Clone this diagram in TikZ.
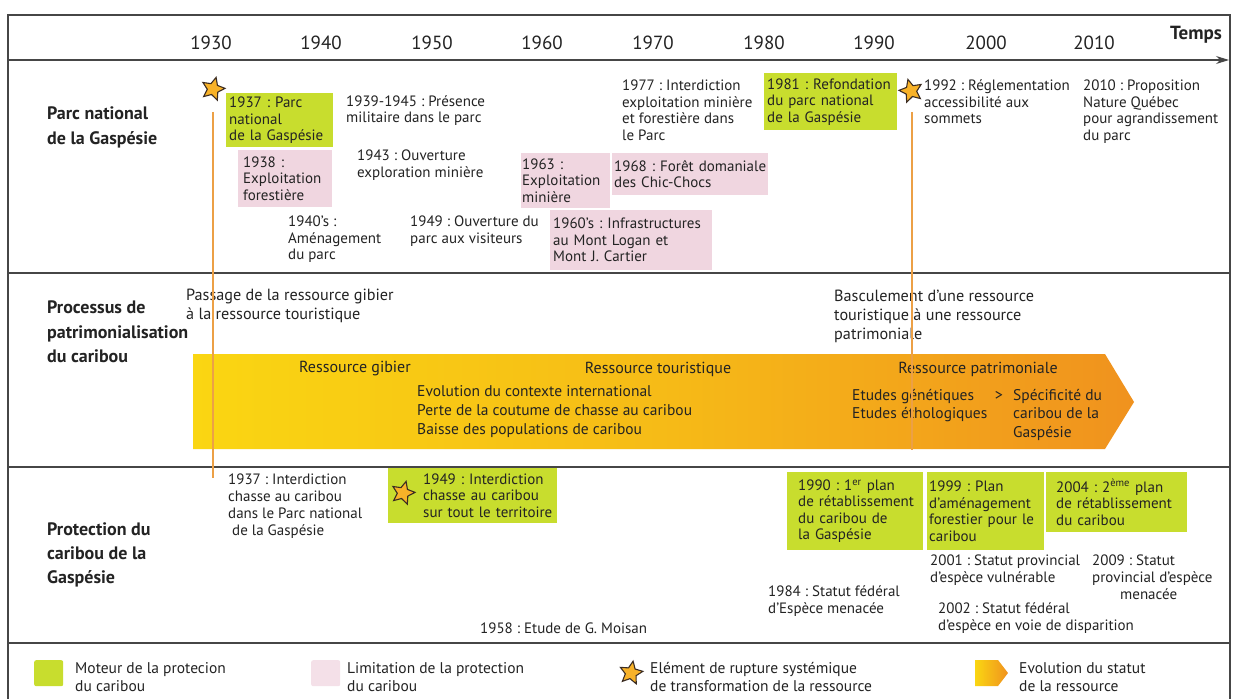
\documentclass[tikz,border=0pt]{standalone}
\usepackage{fontspec}
\setmainfont{PT Sans}
\frenchspacing
\usetikzlibrary{shapes.geometric,arrows.meta}
\definecolor{frame}{RGB}{70,70,70}
\definecolor{txt}{RGB}{35,35,35}
\definecolor{gbox}{RGB}{200,221,46}
\definecolor{pbox}{RGB}{240,214,224}
\definecolor{starfill}{RGB}{248,178,40}
\definecolor{stardraw}{RGB}{60,45,35}
\definecolor{oline}{RGB}{236,160,70}
\definecolor{ayellow}{RGB}{250,214,18}
\definecolor{aorange}{RGB}{240,146,30}
\begin{document}
\begin{tikzpicture}[x=1pt,y=-1pt,
  every node/.style={text=txt},
  body/.style={font=\fontsize{15}{16.5}\selectfont, align=left, anchor=north west, inner sep=0pt},
  prot/.style={font=\fontsize{15}{17}\selectfont, align=left, anchor=north west, inner sep=0pt},
  proc/.style={font=\fontsize{16.2}{19}\selectfont, align=left, anchor=north west, inner sep=0pt},
  leg/.style={font=\fontsize{15.5}{18}\selectfont, align=left, anchor=north west, inner sep=0pt},
  year/.style={font=\fontsize{19}{21}\selectfont, anchor=center, inner sep=0pt},
  section/.style={font=\bfseries\fontsize{18}{24.3}\selectfont, align=left, anchor=north west, inner sep=0pt},
  greenbox/.style={body, fill=gbox, inner xsep=0pt, inner ysep=1pt},
  pinkbox/.style={body, fill=pbox, inner xsep=0pt, inner ysep=1pt},
  rupture/.style={star, star points=5, star point ratio=2.1, minimum size=24pt, inner sep=0pt, fill=starfill, draw=stardraw, line width=1.1pt},
  sep/.style={draw=frame, line width=1.1pt},
  vline/.style={draw=oline, line width=1.4pt},
  resource/.style={font=\fontsize{16}{18}\selectfont, anchor=center, inner sep=0pt}
]
\useasboundingbox (0,0) rectangle (1238,698);
\fill[white] (0,0) rectangle (1238,698);

% frame and separators
\draw[sep] (8,705) -- (8,15) -- (1230,15) -- (1230,705);
\coordinate (axisL) at (8,60);
\coordinate (axisR) at (1229,60);
\draw[sep, -{Stealth[length=13pt,width=8pt]}] (axisL) -- (axisR);
\draw[sep] (8,273) -- (1230,273);
\draw[sep] (8,467) -- (1230,467);
\draw[sep] (8,643) -- (1230,643);

% years
\node[year] (y1930) at (211,43) {1930};
\node[year] (y1940) at (321,43) {1940};
\node[year] (y1950) at (432,43) {1950};
\node[year] (y1960) at (542,43) {1960};
\node[year] (y1970) at (653,43) {1970};
\node[year] (y1980) at (764,43) {1980};
\node[year] (y1990) at (874,43) {1990};
\node[year] (y2000) at (986,43) {2000};
\node[year] (y2010) at (1094,43) {2010};
\node[font=\bfseries\fontsize{19}{21}\selectfont, anchor=center, inner sep=0pt] (temps) at (1196,35) {Temps};

% section titles
\node[section] (s1) at (47,107) {Parc national\\de la Gaspésie};
\node[section] (s2) at (47,301) {Processus de\\patrimonialisation\\du caribou};
\node[section] (s3) at (47,522) {Protection du\\caribou de la\\Gaspésie};

% big resource arrow
\shade[left color=ayellow, right color=aorange, middle color=ayellow!60!aorange]
  (193,354) -- (1105,354) -- (1134,402) -- (1105,449) -- (193,449) -- cycle;

% Parc national
\node[greenbox, text width=107pt, minimum height=54pt] (p1937) at (226,93) {\hspace*{3pt}1937 : Parc\\\hspace*{3pt}national\\\hspace*{3pt}de la Gaspésie};
\node[pinkbox, text width=94pt, minimum height=57pt] (p1938) at (238,150) {\hspace*{5pt}1938 :\\\hspace*{5pt}Exploitation\\\hspace*{5pt}forestière};
\node[body] (p3945) at (346,95) {1939-1945 : Présence\\militaire dans le parc};
\node[body] (p1943) at (357,150) {1943 : Ouverture\\exploration minière};
\node[body] (p1940s) at (288,216) {1940’s :\\Aménagement\\du parc};
\node[body] (p1949) at (410,216) {1949 : Ouverture du\\parc aux visiteurs};
\node[pinkbox, text width=89pt, minimum height=55pt] (p1963) at (521,153) {\hspace*{1pt}1963 :\\\hspace*{1pt}Exploitation\\\hspace*{1pt}minière};
\node[pinkbox, text width=156pt, minimum height=42pt] (p1968) at (612,153) {\hspace*{2pt}1968 : Forêt domaniale\\\hspace*{2pt}des Chic-Chocs};
\node[pinkbox, text width=162pt, minimum height=60pt] (p1960s) at (550,210) {\hspace*{3pt}1960’s : Infrastructures\\\hspace*{3pt}au Mont Logan et\\\hspace*{3pt}Mont J. Cartier};
\node[body] (p1977) at (622,80) {1977 : Interdiction\\exploitation minière\\et forestière dans\\le Parc};
\node[greenbox, text width=133pt, minimum height=57pt] (p1981) at (764,73) {\hspace*{3pt}1981 : Refondation\\\hspace*{3pt}du parc national\\\hspace*{3pt}de la Gaspésie};
\node[body] (p1992) at (924,80) {1992 : Réglementation\\accessibilité aux\\sommets};
\node[body] (p2010) at (1083,80) {2010 : Proposition\\Nature Québec\\pour agrandissement\\du parc};

% Processus
\node[proc] (passage) at (186,289) {Passage de la ressource gibier\\à la ressource touristique};
\node[proc] (bascule) at (834,290) {Basculement d’une ressource\\touristique à une ressource\\patrimoniale};
\node[resource] (rgib) at (355,369) {Ressource gibier};
\node[resource] (rtour) at (658,369) {Ressource touristique};
\node[resource] (rpat) at (978,369) {Ressource patrimoniale};
\node[proc, font=\fontsize{15.5}{19}\selectfont] (evol) at (417,385) {Evolution du contexte international\\Perte de la coutume de chasse au caribou\\Baisse des populations de caribou};
\node[proc, font=\fontsize{15.5}{18.5}\selectfont] (etudes) at (852,389) {Etudes génétiques\\Etudes éthologiques};
\node[resource, font=\fontsize{16}{18}\selectfont] (gt) at (999,396) {>};
\node[proc, font=\fontsize{15.5}{18.5}\selectfont] (specif) at (1013,389) {Spécificité du\\caribou de la\\Gaspésie};

% Protection
\node[prot] (c1937) at (228,474) {1937 : Interdiction\\chasse au caribou\\dans le Parc national\\\ de la Gaspésie};
\node[greenbox, text width=169pt, minimum height=55pt] (c1949) at (388,468) {\hspace*{35pt}1949 : Interdiction\\\hspace*{35pt}chasse au caribou\\\hspace*{35pt}sur tout le territoire};
\node[greenbox, text width=136pt, minimum height=78pt] (c1990) at (787,472) {\hspace*{11pt}1990 : 1\textsuperscript{er} plan\\\hspace*{11pt}de rétablissement\\\hspace*{11pt}du caribou de\\\hspace*{11pt}la Gaspésie};
\node[greenbox, text width=117pt, minimum height=78pt] (c1999) at (927,472) {\hspace*{2pt}1999 : Plan\\\hspace*{2pt}d’aménagement\\\hspace*{2pt}forestier pour le\\\hspace*{2pt}caribou};
\node[greenbox, text width=141pt, minimum height=60pt] (c2004) at (1046,472) {\hspace*{10pt}2004 : 2\textsuperscript{ème} plan\\\hspace*{10pt}de rétablissement\\\hspace*{10pt}du caribou};
\node[prot] (c2001) at (930,555) {2001 : Statut provincial\\d’espèce vulnérable};
\node[prot] (c2009) at (1092,555) {2009 : Statut\\provincial d’espèce\\\hspace*{28pt}menacée};
\node[prot] (c1984) at (768,585) {1984 : Statut fédéral\\d’Espèce menacée};
\node[prot] (c2002) at (938,602) {2002 : Statut fédéral\\d’espèce en voie de disparition};
\node[prot] (c1958) at (480,623) {1958 : Etude de G. Moisan};

% rupture stars and lines
\node[rupture, rotate=-15] (star1937) at (213,89) {};
\node[rupture, rotate=15] (star1992) at (911,91) {};
\node[rupture, rotate=-15] (star1949) at (403,493) {};
\coordinate (top1937) at (213,112);
\coordinate (end1937) at (213,478);
\coordinate (top1992) at (912,112);
\coordinate (end1992) at (912,450);
\draw[vline] (top1937) -- (end1937);
\draw[vline] (top1992) -- (end1992);

% legend
\node[fill=gbox, rounded corners=2pt, minimum width=29pt, minimum height=26pt, anchor=north west, inner sep=0pt] (lg) at (34,660) {};
\node[leg] (lgt) at (75,662) {Moteur de la protecion\\du caribou};
\node[fill=pbox!75, rounded corners=2pt, minimum width=29pt, minimum height=26pt, anchor=north west, inner sep=0pt] (lp) at (311,660) {};
\node[leg] (lpt) at (347,662) {Limitation de la protection\\du caribou};
\node[rupture, rotate=-10] (ls) at (631,673) {};
\node[leg] (lst) at (650,662) {Elément de rupture systémique\\de transformation de la ressource};
\shade[left color=ayellow, right color=aorange] (975,660) -- (998,660) -- (1008,673) -- (998,686) -- (975,686) -- cycle;
\node[leg] (lat) at (1019,662) {Evolution du statut\\de la ressource};
\end{tikzpicture}
\end{document}
